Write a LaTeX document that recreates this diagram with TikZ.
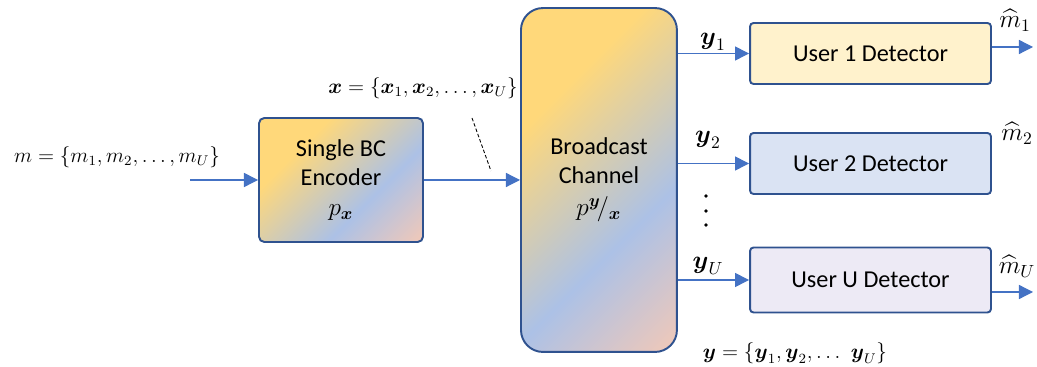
\documentclass[tikz,border=0pt]{standalone}
\usepackage{amsmath,amssymb}
\usepackage{fontspec}
\usepackage{xcolor}
\usepackage{tikz}
\usetikzlibrary{shapes,arrows.meta,positioning}

\newfontfamily\calibri{Carlito}

\definecolor{edgeblue}{RGB}{47,82,143}
\definecolor{arrowblue}{RGB}{68,114,196}
\definecolor{gradyellow}{RGB}{255,216,122}
\definecolor{gradblue}{RGB}{172,193,230}
\definecolor{gradpeach}{RGB}{244,201,182}
\definecolor{userone}{RGB}{255,242,204}
\definecolor{usertwo}{RGB}{218,227,243}
\definecolor{useru}{RGB}{237,234,245}

\pgfdeclarehorizontalshading{bcgrad}{100bp}{color(0bp)=(gradyellow); color(41bp)=(gradyellow); color(56bp)=(gradblue); color(68bp)=(gradpeach); color(100bp)=(gradpeach)}

\begin{document}
\begin{tikzpicture}[x=0.02cm, y=0.02cm,
    font=\calibri\fontsize{13.8}{16.5}\selectfont,
    % Styles for the blocks and flows
    block/.style={rectangle, draw=edgeblue, line width=1.1pt, align=center, text centered, rounded corners=3pt},
    gradfill/.style={path picture={\shade[shading=bcgrad, shading angle=-45] (path picture bounding box.center) ++(-#1,-#1) rectangle ++(2*#1,2*#1);}},
    detector/.style={block, minimum width=4.82cm, minimum height=1.22cm, rounded corners=2pt},
    mathlbl/.style={font=\fontsize{12}{14}\selectfont, inner sep=1pt},
    biglbl/.style={font=\fontsize{14.4}{16}\selectfont, inner sep=1pt},
    line/.style={draw=arrowblue, line width=0.7pt, -{Triangle[length=8pt,width=8pt]}}]

    \useasboundingbox (0,0) rectangle (1037,-367);

    % Node: Encoder
    \node [block, gradfill=2.88cm, minimum width=3.28cm, minimum height=2.48cm] (enc) at (341,-180)
        {Single BC\\Encoder\\[1pt]{\fontsize{14.4}{16}\selectfont$p_{\boldsymbol{x}}$}};

    % Node: Broadcast Channel
    \node [block, gradfill=5cm, minimum width=3.12cm, minimum height=6.88cm, rounded corners=0.44cm,
        right of=enc, node distance=5.16cm] (ch)
        {Broadcast\\Channel\\[2pt]{\fontsize{14.4}{16}\selectfont$p^{\boldsymbol{y}}\!/_{\boldsymbol{x}}$}};

    % Nodes: Detectors
    \node [detector, fill=userone] (det1) at (870.5,-53.5) {User 1 Detector};
    \node [detector, fill=usertwo] (det2) at (870.5,-163.5) {User 2 Detector};
    \node [detector, fill=useru, minimum height=1.3cm] (detU) at (870.5,-280) {User U Detector};

    % Labels
    \node [mathlbl] (msg) at (117,-157) {$m=\{m_1,m_2,\dots,m_U\}$};
    \node [mathlbl] (xvec) at (423,-88) {$\boldsymbol{x}=\{\boldsymbol{x}_1,\boldsymbol{x}_2,\dots,\boldsymbol{x}_U\}$};
    \node [mathlbl] (yvec) at (795,-353) {$\boldsymbol{y}=\{\boldsymbol{y}_1,\boldsymbol{y}_2,\dots\ \boldsymbol{y}_U\}$};
    \node [biglbl] (y1) at (713,-42) {$\boldsymbol{y}_1$};
    \node [biglbl] (y2) at (708,-140) {$\boldsymbol{y}_2$};
    \node [biglbl] (yU) at (708,-266) {$\boldsymbol{y}_U$};
    \node [biglbl] (mhat1) at (1015,-20) {$\widehat{m}_1$};
    \node [biglbl] (mhat2) at (1017,-133) {$\widehat{m}_2$};
    \node [biglbl] (mhatU) at (1017,-266) {$\widehat{m}_U$};

    % Coordinates for free ends
    \coordinate (in) at (190,-180);
    \coordinate (out1) at (1033,-47);
    \coordinate (outU) at (1033,-292);
    \coordinate (slashtop) at (472,-118);
    \coordinate (slashbot) at (491,-171);

    % Edges (Flow)
    \path [line] (in) -- (enc.west);
    \path [line] (enc) -- (ch);
    \path [line] (ch.east |- det1.west) -- (det1.west);
    \path [line] (ch.east |- det2.west) -- (det2.west);
    \path [line] (ch.east |- detU.west) -- (detU.west);
    \path [line] (det1.east |- out1) -- (out1);
    \path [line] (detU.east |- outU) -- (outU);

    % Dashed mark and vertical dots
    \draw [dash pattern=on 2pt off 1.2pt, line width=0.5pt] (slashtop) -- (slashbot);
    \foreach \yy in {196,211,225}
        \fill (706,-\yy) circle (1.9);

\end{tikzpicture}
\end{document}
